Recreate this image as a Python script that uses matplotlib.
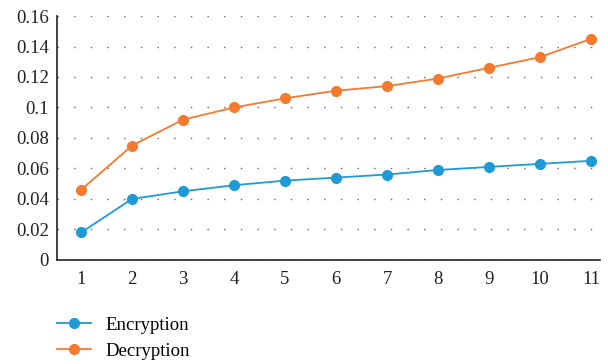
import numpy as np
import matplotlib.pyplot as plt
from matplotlib.ticker import FuncFormatter

x = list(range(1, 12))
encryption = [0.018, 0.040, 0.045, 0.049, 0.052, 0.054, 0.056, 0.059, 0.061, 0.063, 0.065]
decryption = [0.046, 0.075, 0.092, 0.100, 0.106, 0.111, 0.114, 0.119, 0.126, 0.133, 0.145]

plt.rcParams['font.family'] = ['Liberation Serif', 'DejaVu Serif']

fig = plt.figure(figsize=(6.08, 3.64), dpi=100)
ax = fig.add_axes([0.094, 0.286, 0.893, 0.670])

ax.plot(x, encryption, color='#1e9bd7', marker='o', markersize=7, linewidth=1.3, label='Encryption')
ax.plot(x, decryption, color='#f47a30', marker='o', markersize=7, linewidth=1.3, label='Decryption')

ax.set_xlim(0.53, 11.18)
ax.set_ylim(0, 0.16)
ax.set_xticks(x)
ax.set_yticks(np.arange(0, 0.161, 0.02))
ax.yaxis.set_major_formatter(FuncFormatter(lambda v, p: f"{v:g}"))
ax.tick_params(length=0, labelsize=13.5, colors='#222222', pad=8)
ax.tick_params(axis='y', pad=6)

# dotted horizontal grid
ax.grid(axis='y', linestyle=(0, (1, 11)), color='#666666', linewidth=1.0)
ax.set_axisbelow(True)
for s in ['top', 'right']:
    ax.spines[s].set_visible(False)
for s in ['left', 'bottom']:
    ax.spines[s].set_color('#222222')
    ax.spines[s].set_linewidth(1.2)

ax.legend(loc='upper left', bbox_to_anchor=(0.0, -0.232), frameon=False,
          borderaxespad=0, borderpad=0,
          fontsize=13.5, handlelength=1.8, labelspacing=0.48, handletextpad=0.8)

fig.savefig('out.png', dpi=100)
